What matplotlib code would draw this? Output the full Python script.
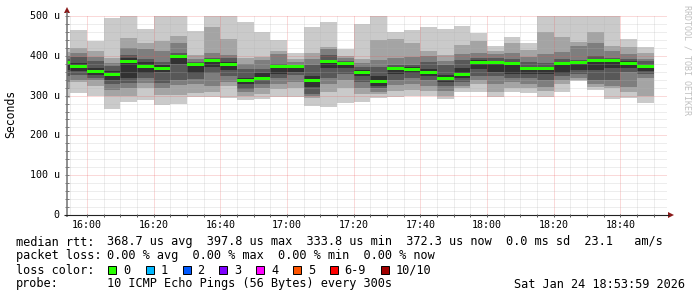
import matplotlib
matplotlib.use('Agg')
import matplotlib.pyplot as plt
from matplotlib.transforms import Affine2D
from matplotlib.lines import Line2D
from matplotlib.patches import Rectangle, Polygon

# ---------------- data (microseconds) ----------------
bar_start = ["15:50", "15:55", "16:00", "16:05", "16:10", "16:15", "16:20", "16:25", "16:30",
             "16:35", "16:40", "16:45", "16:50", "16:55", "17:00", "17:05", "17:10", "17:15",
             "17:20", "17:25", "17:30", "17:35", "17:40", "17:45", "17:50", "17:55", "18:00",
             "18:05", "18:10", "18:15", "18:20", "18:25", "18:30", "18:35", "18:40", "18:45"]

# sorted ping values (ping 1 = fastest ... ping 10 = slowest)
ping1 = [293, 307, 300, 267, 285, 290, 276, 280, 297, 296, 295, 288, 291, 296, 296, 275, 272, 282,
         285, 294, 296, 300, 298, 292, 310, 309, 297, 309, 306, 296, 310, 336, 314, 292, 293, 282]
ping2 = [320, 333, 325, 300, 300, 319, 302, 302, 307, 310, 323, 300, 303, 317, 318, 295, 310, 320,
         305, 303, 311, 315, 312, 300, 318, 328, 310, 320, 318, 312, 328, 340, 322, 318, 310, 300]
ping3 = [335, 340, 338, 315, 319, 332, 318, 327, 328, 325, 335, 308, 320, 330, 335, 300, 330, 340,
         320, 310, 327, 330, 325, 312, 325, 338, 330, 335, 330, 322, 340, 345, 330, 325, 322, 345]
ping4 = [350, 352, 345, 328, 332, 344, 332, 340, 342, 357, 348, 316, 330, 345, 352, 305, 345, 355,
         335, 318, 340, 343, 338, 325, 335, 350, 348, 345, 343, 338, 350, 355, 340, 340, 360, 355]
ping5 = [365, 361, 352, 340, 344, 358, 360, 380, 358, 372, 365, 330, 338, 355, 360, 322, 370, 370,
         348, 325, 355, 358, 350, 335, 345, 368, 360, 355, 355, 355, 358, 365, 365, 370, 370, 362]
ping6 = [385, 382, 370, 362, 395, 385, 378, 403, 380, 390, 384, 345, 356, 377, 376, 350, 390, 384,
         365, 350, 372, 372, 367, 352, 370, 390, 388, 385, 372, 372, 385, 386, 393, 392, 386, 378]
ping7 = [392, 398, 388, 375, 402, 392, 385, 407, 385, 395, 395, 367, 368, 380, 378, 377, 402, 387,
         373, 372, 377, 378, 385, 377, 390, 395, 395, 393, 385, 382, 392, 390, 400, 395, 392, 386]
ping8 = [400, 407, 398, 383, 420, 417, 412, 433, 392, 407, 402, 380, 390, 405, 385, 392, 417, 395,
         382, 390, 394, 398, 400, 387, 405, 407, 405, 408, 398, 404, 410, 425, 433, 413, 404, 392]
ping9 = [410, 419, 412, 395, 444, 432, 437, 450, 402, 473, 443, 394, 398, 413, 392, 407, 423, 400,
         392, 440, 441, 431, 411, 402, 427, 437, 412, 431, 415, 461, 448, 435, 461, 425, 421, 406]
ping10 = [420, 465, 438, 496, 510, 467, 510, 510, 462, 510, 510, 485, 461, 440, 408, 472, 484, 416,
          480, 510, 460, 466, 472, 467, 475, 458, 425, 446, 432, 510, 510, 510, 510, 510, 441, 423]
median = [382, 374, 360, 352, 385, 372, 369, 398, 377, 388, 379, 338, 344, 374, 372, 337, 386, 380,
          358, 336, 368, 366, 358, 342, 354, 384, 383, 380, 367, 367, 381, 383, 389, 388, 381, 374]

y_ticks = [0, 100, 200, 300, 400, 500]
y_tick_labels = ["0", "100 u", "200 u", "300 u", "400 u", "500 u"]
x_tick_labels = ["16:00", "16:20", "16:40", "17:00", "17:20", "17:40", "18:00", "18:20", "18:40"]

loss_labels = ["0", "1", "2", "3", "4", "5", "6-9", "10/10"]
loss_colors = ["#26ff00", "#00b8ff", "#0059ff", "#7e00ff", "#ff00ff", "#ff5500", "#ff0000", "#a10000"]

legend_rtt = "368.7 us avg  397.8 us max  333.8 us min  372.3 us now  0.0 ms sd  23.1   am/s"
legend_loss = "0.00 % avg  0.00 % max  0.00 % min  0.00 % now"
probe_text = "10 ICMP Echo Pings (56 Bytes) every 300s"
stamp = "Sat Jan 24 18:53:59 2026"

# ---------------- figure ----------------
W, H = 697, 297
fig = plt.figure(figsize=(W / 100, H / 100), dpi=100)
fig.patch.set_facecolor('white')
pix = Affine2D().scale(1 / W, -1 / H).translate(0, 1) + fig.transFigure

L, R, T, B = 67, 667, 16, 215
ax = fig.add_axes([L / W, 1 - B / H, (R - L) / W, (B - T) / H])
ax.set_facecolor('white')
for s in ax.spines.values():
    s.set_visible(False)


def to_min(t):
    h, m = t.split(":")
    return int(h) * 60 + int(m) - 960


xs = [to_min(t) for t in bar_start]
ax.set_xlim(-6.02, 173.98)
ax.set_ylim(0, 500)

lows = [ping1, ping2, ping3, ping4, ping5]
highs = [ping10, ping9, ping8, ping7, ping6]
shades = ["#cacaca", "#a4a4a4", "#7e7e7e", "#585858", "#323232"]
for lo, hi, c in zip(lows, highs, shades):
    ax.bar(xs, [h - l for l, h in zip(lo, hi)], bottom=lo, width=5, align='edge',
           color=c, linewidth=0, zorder=1)

# grid (drawn over the smoke like rrdtool), faint dots
minor_c = (0.70, 0.70, 0.70, 0.45)
major_c = (0.92, 0.35, 0.35, 0.45)
dot = (0, (1, 1))
for m in range(-5, 174, 5):
    major = (m % 20 == 0)
    ax.axvline(m, color=major_c if major else minor_c, lw=0.72, ls=dot, zorder=3)
for v in range(20, 501, 20):
    major = (v % 100 == 0)
    ax.axhline(v, color=major_c if major else minor_c, lw=0.72, ls=dot, zorder=3)

# median
ax.bar(xs, [7.5] * len(median), bottom=[m - 3.75 for m in median], width=5, align='edge',
       color=loss_colors[0], linewidth=0, zorder=4)

ax.set_xticks([])
ax.set_yticks([])

# axes lines, ticks, arrows (pixel coords)
def pline(xx, yy, c, lw=0.8):
    fig.add_artist(Line2D(xx, yy, transform=pix, color=c, lw=lw, solid_capstyle='butt'))

pline([L, L], [B + 2, 12], '#707070', 1.1)
pline([L - 3, 669], [B, B], '#222222')
for m in range(0, 174, 5):
    xp = L + (m + 6.02) * (R - L) / 180.0
    pline([xp, xp], [B - 1.5, B + 2], '#555555', 0.7)
for v in range(20, 501, 20):
    yp = B - v * (B - T) / 500.0
    pline([L - 2, L + 2], [yp, yp], '#777777', 0.7)
fig.add_artist(Polygon([[L - 3, 13], [L + 3, 13], [L, 7]], closed=True, transform=pix,
                       facecolor='#8b1a1a', edgecolor='none'))
fig.add_artist(Polygon([[668, B - 3], [668, B + 3], [674, B]], closed=True, transform=pix,
                       facecolor='#8b1a1a', edgecolor='none'))

mono = 'DejaVu Sans Mono'
for v, lab in zip(y_ticks, y_tick_labels):
    yp = B - v * (B - T) / 500.0
    fig.text(59.5 / W, 1 - yp / H, lab, transform=fig.transFigure, ha='right', va='center',
             fontsize=7.2, family=mono)
for i, lab in enumerate(x_tick_labels):
    xp = L + (i * 20 + 6.02) * (R - L) / 180.0
    fig.text(xp / W, 1 - 224.5 / H, lab, ha='center', va='center', fontsize=7.2, family=mono)

fig.text(11 / W, 1 - 114 / H, "Seconds", rotation=90, ha='center', va='center',
         fontsize=8.3, family=mono)
fig.text(687.5 / W, 1 - 60 / H, "RRDTOOL / TOBI OETIKER", rotation=-90, ha='center', va='center',
         fontsize=6.0, family=mono, color='#c0c0c0')

fs = 8.55
def ptext(x, y, s, **kw):
    fig.text(x / W, 1 - y / H, s, ha='left', va='baseline', fontsize=fs, family=mono, **kw)

ptext(16, 245.5, "median rtt:")
ptext(107.3, 245.5, legend_rtt)
ptext(16, 259.5, "packet loss:")
ptext(107.3, 259.5, legend_loss)
ptext(16, 273.5, "loss color:")
box_x = [108.3, 145.7, 182.7, 219.3, 256.3, 293.3, 330.0, 381.3]
for bx, lab, c in zip(box_x, loss_labels, loss_colors):
    fig.add_artist(Rectangle((bx, 274), 8, -8, transform=pix, facecolor=c,
                             edgecolor='black', lw=0.7))
    ptext(bx + 14.7, 273.5, lab)
ptext(16, 287.5, "probe:")
ptext(107.3, 287.5, probe_text)
ptext(513.7, 287.5, stamp)

fig.savefig('out.png', dpi=100, facecolor='white')
